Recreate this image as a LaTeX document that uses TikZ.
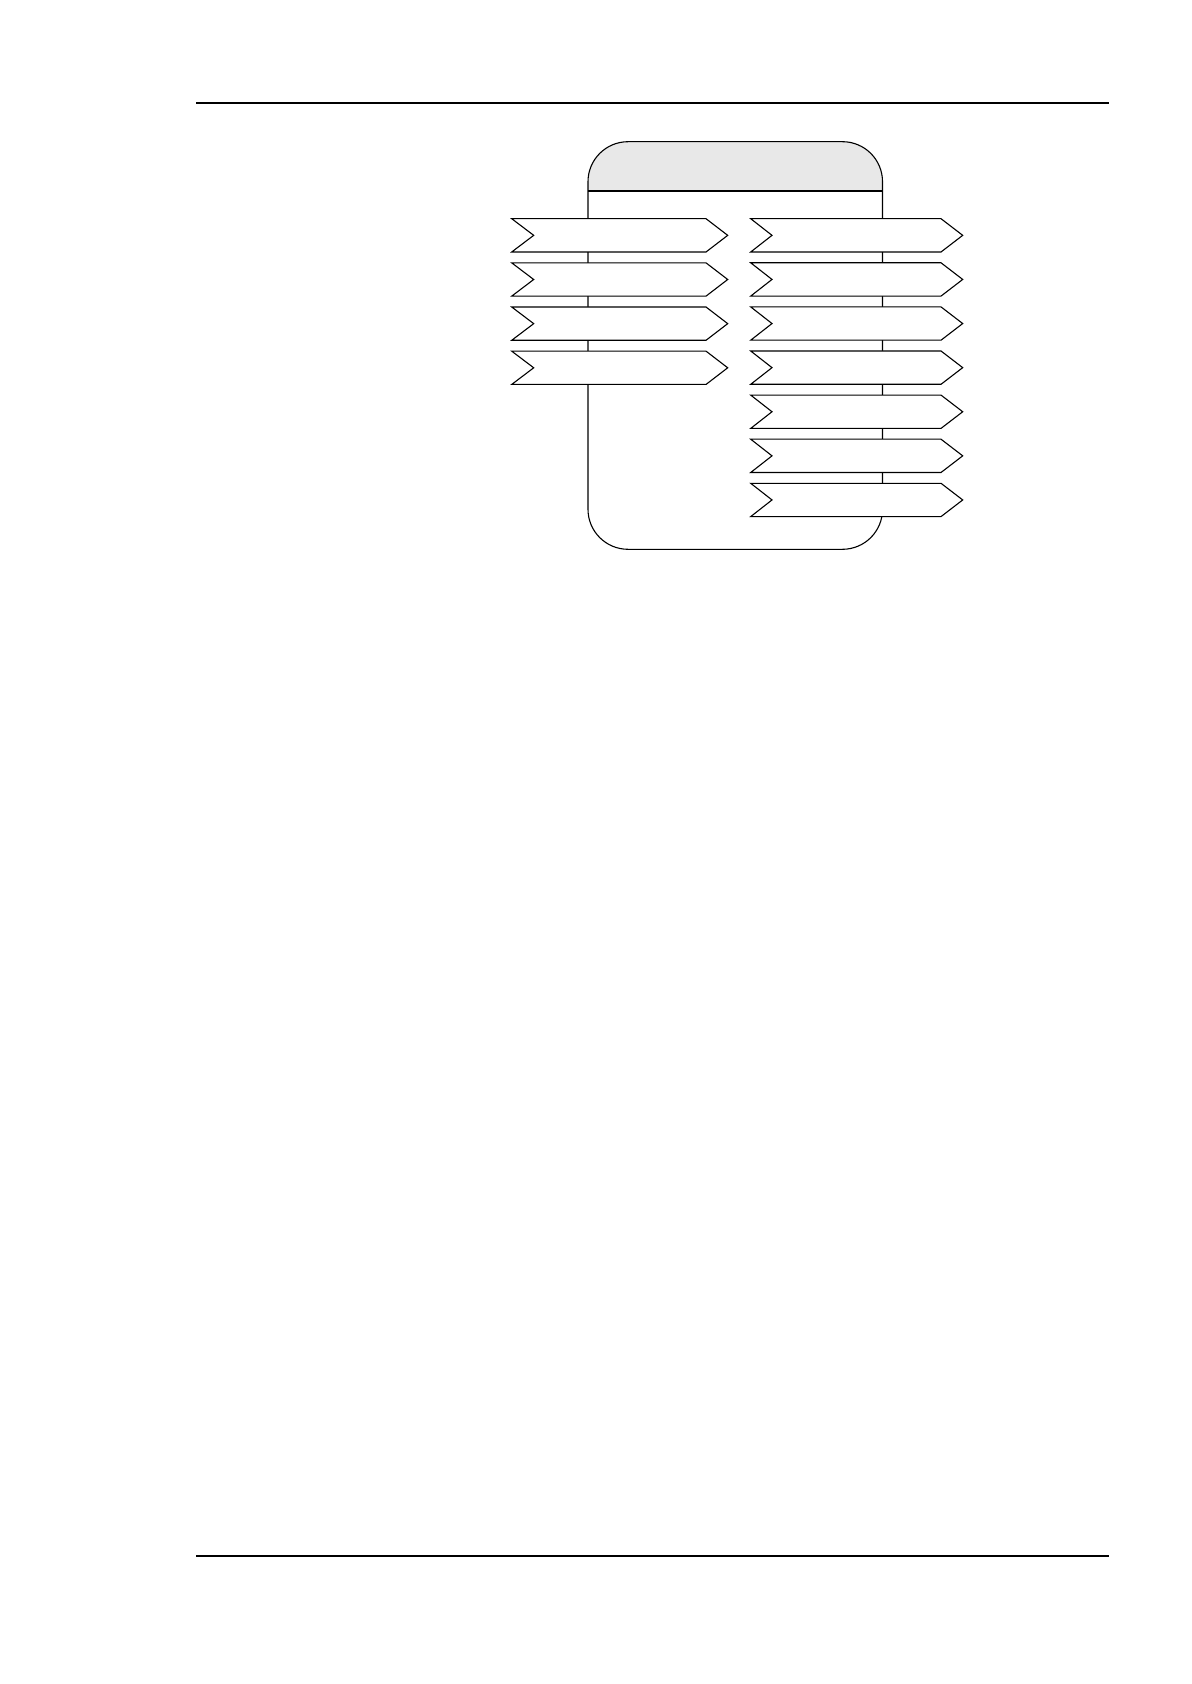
\documentclass[tikz,border=0pt]{standalone}
\definecolor{hdrgray}{HTML}{E8E8E8}
\tikzset{
  rule/.style={line width=1pt, draw=black},
  boxline/.style={line width=0.55pt, draw=black},
  chev/.style={line width=0.55pt, draw=black, fill=white, line join=miter},
}
\begin{document}
\begin{tikzpicture}[x=0.5pt,y=-0.5pt]
\useasboundingbox (0,0) rectangle (1191,1684);
% page rules
\draw[rule] (196,103) -- (1109,103);
\draw[rule] (196,1556) -- (1109,1556);
% container header fill
\begin{scope}
  \clip (500,100) rectangle (1000,191);
  \fill[hdrgray, rounded corners=20pt] (588,141.7) rectangle (882.5,549.3);
\end{scope}
% container outline and header line
\draw[boxline, rounded corners=20pt] (588,141.7) rectangle (882.5,549.3);
\draw[boxline] (588,191) -- (882.5,191);
% left chevrons
\foreach \i in {0,...,3}{
  \pgfmathsetmacro{\t}{218.7+44.15*\i}
  \pgfmathsetmacro{\m}{\t+16.65}
  \pgfmathsetmacro{\b}{\t+33.3}
  \draw[chev] (511.7,\t) -- (706,\t) -- (727.7,\m) -- (706,\b) -- (511.7,\b) -- (533.7,\m) -- cycle;
}
% right chevrons
\foreach \i in {0,...,6}{
  \pgfmathsetmacro{\t}{218.7+44.1*\i}
  \pgfmathsetmacro{\m}{\t+16.65}
  \pgfmathsetmacro{\b}{\t+33.3}
  \draw[chev] (750.7,\t) -- (941,\t) -- (962.7,\m) -- (941,\b) -- (750.7,\b) -- (772,\m) -- cycle;
}
\end{tikzpicture}
\end{document}
